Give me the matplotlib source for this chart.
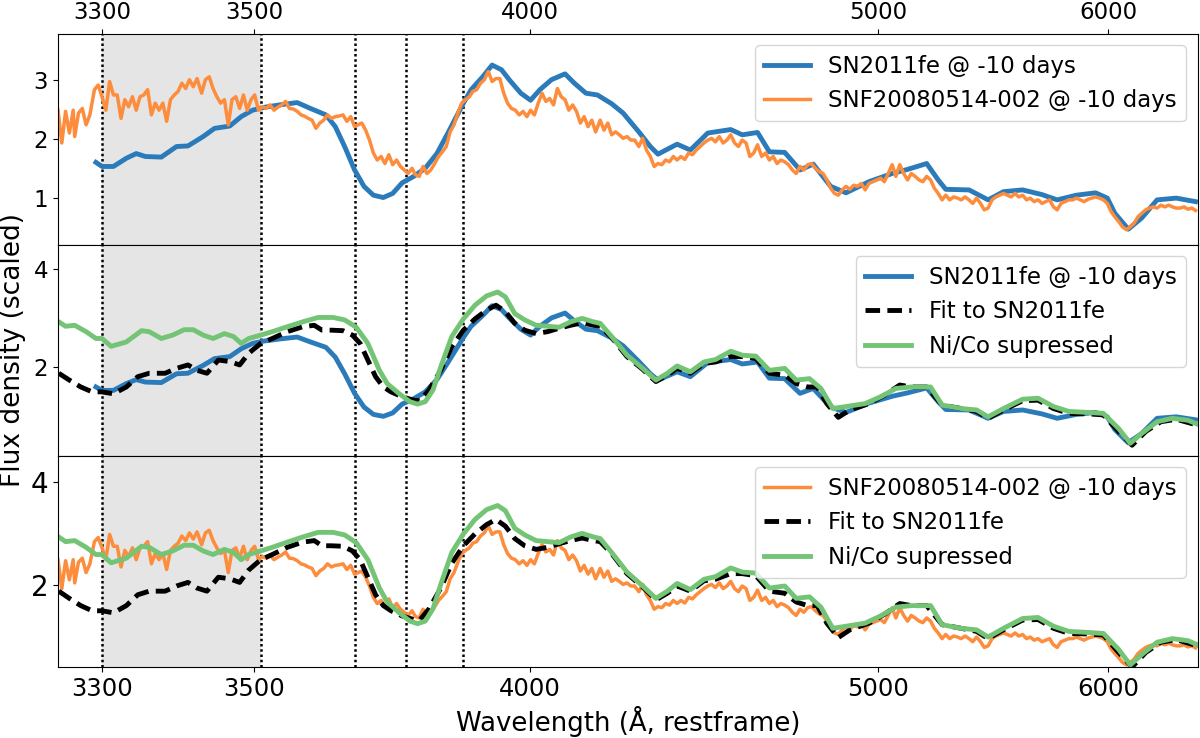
import numpy as np
import matplotlib
matplotlib.use("Agg")
import matplotlib.pyplot as plt

# spectra: wavelength (A, restframe) and scaled flux
sn11_wave = [3292, 3300, 3315, 3332, 3345, 3357, 3378, 3398, 3413, 3433,
             3448, 3468, 3483, 3498, 3519, 3546, 3578, 3602, 3630, 3647,
             3664, 3682, 3699, 3716, 3734, 3751, 3768, 3789, 3810, 3831,
             3851, 3879, 3893, 3914, 3931, 3948, 3962, 3983, 4001, 4028,
             4061, 4100, 4127, 4160, 4193, 4234, 4267, 4312, 4345, 4367,
             4422, 4460, 4510, 4576, 4609, 4653, 4687, 4731, 4775, 4813,
             4863, 4907, 4973, 5060, 5127, 5210, 5260, 5293, 5394, 5477,
             5544, 5627, 5711, 5777, 5861, 5944, 5995, 6032, 6099, 6166,
             6243, 6339, 6435]
sn11_flux = [1.60, 1.53, 1.53, 1.67, 1.75, 1.70, 1.69, 1.87, 1.88, 2.04,
             2.18, 2.22, 2.38, 2.49, 2.54, 2.58, 2.62, 2.52, 2.41, 2.21,
             1.87, 1.47, 1.19, 1.04, 1.00, 1.07, 1.25, 1.36, 1.50, 1.75,
             2.10, 2.61, 2.84, 3.06, 3.26, 3.18, 3.01, 2.78, 2.66, 2.84,
             3.01, 3.11, 2.95, 2.78, 2.75, 2.60, 2.44, 2.12, 1.87, 1.74,
             1.91, 1.81, 2.10, 2.16, 2.07, 2.11, 1.78, 1.77, 1.47, 1.57,
             1.19, 1.08, 1.27, 1.41, 1.48, 1.58, 1.30, 1.14, 1.13, 0.96,
             1.10, 1.13, 1.05, 0.96, 1.04, 1.08, 0.99, 0.73, 0.46, 0.65,
             0.96, 0.99, 0.93]

snf_wave = [3242, 3247, 3252, 3257, 3262, 3264, 3269, 3274, 3279, 3284,
            3290, 3295, 3300, 3305, 3310, 3315, 3320, 3325, 3330, 3335,
            3340, 3345, 3350, 3355, 3360, 3365, 3370, 3375, 3380, 3385,
            3390, 3395, 3400, 3405, 3410, 3415, 3420, 3425, 3431, 3436,
            3441, 3446, 3451, 3456, 3461, 3466, 3471, 3476, 3481, 3486,
            3491, 3496, 3501, 3508, 3515, 3522, 3529, 3536, 3543, 3550,
            3557, 3564, 3571, 3578, 3585, 3591, 3598, 3605, 3612, 3619,
            3626, 3633, 3640, 3647, 3654, 3661, 3668, 3675, 3682, 3688,
            3695, 3702, 3709, 3716, 3723, 3730, 3737, 3744, 3751, 3758,
            3765, 3772, 3779, 3786, 3792, 3799, 3806, 3813, 3820, 3827,
            3834, 3841, 3848, 3855, 3862, 3869, 3876, 3883, 3890, 3896,
            3903, 3910, 3917, 3924, 3931, 3938, 3945, 3952, 3959, 3966,
            3973, 3980, 3987, 3994, 4001, 4012, 4023, 4034, 4045, 4056,
            4067, 4078, 4089, 4100, 4111, 4122, 4133, 4144, 4155, 4166,
            4177, 4188,
            4201, 4212, 4223, 4234, 4245, 4256, 4267, 4278, 4289, 4300,
            4312, 4323, 4334, 4345, 4356, 4367, 4378, 4389, 4400, 4411,
            4422, 4433, 4444, 4455, 4466, 4477, 4488, 4499, 4510, 4521,
            4532, 4543, 4554, 4565, 4576, 4587, 4598, 4609, 4620, 4631,
            4642, 4653, 4665, 4676, 4687, 4698, 4709, 4720, 4731, 4742,
            4753, 4764, 4775, 4786, 4797, 4808, 4819, 4830, 4841, 4852,
            4863, 4874, 4885, 4896, 4907, 4918, 4929, 4940, 4951, 4962,
            4973, 4984, 4995,
            5010, 5026, 5043, 5060, 5076, 5093, 5110, 5127, 5143, 5160,
            5177, 5193, 5210, 5227, 5243, 5260, 5277, 5293, 5310, 5327,
            5344, 5360, 5377, 5394, 5410, 5427, 5444, 5460, 5477, 5494,
            5510, 5527, 5544, 5560, 5577, 5594, 5610, 5627, 5644, 5660,
            5677, 5694, 5711, 5727, 5744, 5761, 5777, 5794, 5811, 5828,
            5844, 5861, 5878, 5894, 5911, 5928, 5944, 5961, 5978, 5995,
            6013, 6032, 6051, 6070, 6090, 6109, 6128, 6147, 6166, 6186,
            6205, 6224, 6243, 6262, 6282, 6301, 6320, 6339, 6358, 6378,
            6397, 6416, 6435]
snf_flux = [2.49, 1.93, 2.47, 2.10, 2.49, 2.04, 2.44, 2.52, 2.24, 2.41,
            2.84, 2.92, 2.72, 2.49, 2.98, 2.75, 2.75, 2.35, 2.67, 2.55,
            2.72, 2.49, 2.72, 2.75, 2.84, 2.41, 2.61, 2.49, 2.61, 2.30,
            2.67, 2.75, 2.81, 2.95, 2.86, 3.01, 2.89, 3.03, 2.78, 3.01,
            3.06, 2.86, 2.72, 2.61, 2.67, 2.24, 2.67, 2.72, 2.52, 2.75,
            2.49, 2.67, 2.75, 2.49, 2.55, 2.52, 2.58, 2.49, 2.54, 2.58,
            2.64, 2.52, 2.51, 2.47, 2.41, 2.39, 2.35, 2.32, 2.18, 2.27,
            2.32, 2.41, 2.35, 2.38, 2.39, 2.41, 2.30, 2.38, 2.21, 2.24,
            2.27, 2.15, 1.98, 1.76, 1.64, 1.70, 1.58, 1.73, 1.56, 1.64,
            1.53, 1.47, 1.41, 1.50, 1.39, 1.36, 1.53, 1.41, 1.47, 1.58,
            1.70, 1.78, 1.87, 2.12, 2.24, 2.44, 2.61, 2.67, 2.72, 2.81,
            2.84, 2.95, 3.01, 3.15, 2.98, 3.03, 3.03, 2.78, 2.61, 2.52,
            2.49, 2.41, 2.47, 2.38, 2.49, 2.41, 2.61, 2.78, 2.64, 2.69,
            2.58, 2.86, 2.72, 2.67, 2.49, 2.58, 2.47, 2.27, 2.38, 2.21,
            2.32, 2.12,
            2.32, 2.15, 2.27, 2.07, 2.12, 2.07, 2.01, 2.04, 1.98, 1.98,
            1.87, 2.01, 1.81, 1.70, 1.53, 1.58, 1.56, 1.64, 1.61, 1.70,
            1.64, 1.70, 1.65, 1.76, 1.73, 1.81, 1.87, 1.93, 1.98, 2.01,
            1.95, 2.04, 1.93, 1.98, 2.07, 1.93, 1.87, 1.98, 1.93, 1.70,
            1.76, 1.90, 1.70, 1.76, 1.64, 1.70, 1.58, 1.64, 1.61, 1.56,
            1.47, 1.41, 1.53, 1.47, 1.56, 1.58, 1.50, 1.44, 1.41, 1.30,
            1.16, 1.07, 1.04, 1.13, 1.19, 1.14, 1.21, 1.19, 1.24, 1.13,
            1.24, 1.27, 1.30,
            1.33, 1.27, 1.41, 1.56, 1.36, 1.56, 1.41, 1.30, 1.41, 1.36,
            1.30, 1.27, 1.36, 1.30, 1.16, 1.07, 0.96, 1.04, 0.96, 1.01,
            0.99, 0.96, 1.01, 0.96, 0.90, 0.99, 0.90, 0.79, 0.82, 0.96,
            1.01, 1.04, 1.07, 1.04, 1.01, 1.07, 1.01, 1.04, 0.96, 0.99,
            0.93, 0.96, 0.90, 0.93, 0.96, 0.84, 0.79, 0.90, 0.93, 0.96,
            0.96, 0.99, 0.96, 0.93, 0.97, 0.99, 1.01, 0.99, 0.96, 0.90,
            0.76, 0.67, 0.59, 0.50, 0.45, 0.50, 0.56, 0.67, 0.73, 0.79,
            0.82, 0.84, 0.82, 0.87, 0.84, 0.87, 0.84, 0.82, 0.82, 0.84,
            0.80, 0.82, 0.78]

fit_wave = [3243, 3257, 3272, 3287, 3300, 3315, 3332, 3347, 3362, 3383,
            3398, 3413, 3425, 3438, 3453, 3468, 3481, 3493, 3512, 3533,
            3560, 3588, 3609, 3623, 3640, 3661, 3678, 3692, 3706, 3720,
            3734, 3748, 3768, 3789, 3800, 3817, 3838, 3858, 3879, 3900,
            3921, 3938, 3955, 3972, 3990, 4017, 4050, 4083, 4116, 4149,
            4182, 4201, 4234, 4278, 4323, 4361, 4394, 4422, 4460, 4499,
            4532, 4576, 4609, 4648, 4687, 4731, 4764, 4797, 4824, 4852,
            4885, 4918, 4973, 5026, 5093, 5143, 5210, 5277, 5360, 5427,
            5477, 5544, 5627, 5694, 5761, 5828, 5911, 5978, 6051, 6118,
            6186, 6262, 6339, 6445]
fit_flux = [1.88, 1.74, 1.60, 1.50, 1.50, 1.46, 1.60, 1.81, 1.88, 1.88,
            1.98, 2.05, 1.94, 1.88, 2.15, 2.12, 2.05, 2.29, 2.49, 2.59,
            2.73, 2.83, 2.86, 2.76, 2.76, 2.75, 2.66, 2.49, 2.15, 1.81,
            1.60, 1.50, 1.40, 1.33, 1.32, 1.54, 1.94, 2.42, 2.76, 2.99,
            3.17, 3.27, 3.14, 2.90, 2.76, 2.69, 2.73, 2.80, 2.86, 2.91,
            2.86, 2.84, 2.61, 2.22, 1.96, 1.71, 1.84, 1.98, 1.88, 2.08,
            2.11, 2.22, 2.22, 2.18, 1.88, 1.84, 1.67, 1.60, 1.60, 1.26,
            0.98, 1.13, 1.26, 1.43, 1.64, 1.60, 1.60, 1.23, 1.16, 1.10,
            0.96, 1.13, 1.32, 1.33, 1.16, 1.06, 1.05, 1.03, 0.69, 0.41,
            0.69, 0.89, 0.94, 0.82]

nico_wave = [3243, 3252, 3264, 3279, 3292, 3300, 3312, 3332, 3352, 3362,
             3378, 3393, 3408, 3420, 3433, 3446, 3461, 3473, 3483, 3493,
             3512, 3533, 3560, 3588, 3616, 3643, 3664, 3685, 3706, 3727,
             3741, 3762, 3782, 3796, 3810, 3824, 3838, 3858, 3879, 3900,
             3921, 3941, 3955, 3972, 3990, 4017, 4050, 4083, 4116, 4149,
             4182, 4201, 4234, 4278, 4323, 4361, 4394, 4422, 4460, 4499,
             4532, 4576, 4609, 4648, 4687, 4731, 4764, 4802, 4835, 4869,
             4907, 4962, 5010, 5076, 5143, 5227, 5277, 5360, 5427, 5477,
             5544, 5627, 5694, 5761, 5828, 5911, 5978, 6051, 6109, 6166,
             6243, 6320, 6397, 6445]
nico_flux = [2.93, 2.84, 2.86, 2.73, 2.59, 2.59, 2.43, 2.52, 2.75, 2.73,
             2.59, 2.66, 2.77, 2.77, 2.66, 2.59, 2.69, 2.63, 2.49, 2.59,
             2.66, 2.73, 2.83, 2.93, 3.02, 3.02, 2.97, 2.82, 2.49, 1.94,
             1.67, 1.47, 1.30, 1.25, 1.30, 1.54, 2.01, 2.63, 2.99, 3.27,
             3.46, 3.54, 3.44, 3.10, 2.97, 2.86, 2.84, 2.82, 2.93, 3.00,
             2.93, 2.90, 2.63, 2.25, 1.98, 1.74, 1.88, 2.03, 1.91, 2.11,
             2.16, 2.33, 2.25, 2.23, 1.94, 1.98, 1.74, 1.77, 1.57, 1.16,
             1.20, 1.26, 1.40, 1.57, 1.60, 1.60, 1.23, 1.16, 1.13, 0.99,
             1.16, 1.35, 1.37, 1.20, 1.10, 1.08, 1.06, 0.75, 0.45, 0.65,
             0.89, 0.96, 0.92, 0.84]

x_ticks = [3300, 3500, 4000, 5000, 6000]
line_waves = [3300, 3512, 3683, 3775, 3879]
shade_lo, shade_hi = 3300, 3512

# the wavelength axis is neither linear nor log: map it through the tick spots
scale_wave = [2500, 3242, 3300, 3500, 4000, 5000, 6000, 6445, 9000]
scale_pos = [-505, 58, 102, 254, 530, 878, 1108, 1197, 1708]


def fwd(w):
    return np.interp(w, scale_wave, scale_pos)


def inv(p):
    return np.interp(p, scale_pos, scale_wave)


c_blue = '#2b7bba'
c_orange = '#fd8d3c'
c_green = '#74c476'

fig, axes = plt.subplots(3, 1, figsize=(12, 7.38), dpi=100, sharex=True)
fig.subplots_adjust(left=58 / 1200, right=1197.5 / 1200,
                    top=1 - 34 / 738, bottom=1 - 667 / 738, hspace=0)

for ax in axes:
    ax.set_xscale('function', functions=(fwd, inv))
    ax.axvspan(shade_lo, shade_hi, color='#e5e5e5', zorder=0, lw=0)
    for w in line_waves:
        ax.axvline(w, color='k', ls=(0, (1, 1.1)), lw=1.8, zorder=1)

ax1, ax2, ax3 = axes

ax1.plot(sn11_wave, sn11_flux, color=c_blue, lw=3.5, label='SN2011fe @ -10 days')
ax1.plot(snf_wave, snf_flux, color=c_orange, lw=2.5,
         label='SNF20080514-002 @ -10 days')

ax2.plot(sn11_wave, sn11_flux, color=c_blue, lw=3.5, label='SN2011fe @ -10 days')
ax2.plot(fit_wave, fit_flux, color='k', lw=3.5, ls=(0, (3, 1.5)),
         label='Fit to SN2011fe')
ax2.plot(nico_wave, nico_flux, color=c_green, lw=3.5, label='Ni/Co supressed')

ax3.plot(snf_wave, snf_flux, color=c_orange, lw=2.5,
         label='SNF20080514-002 @ -10 days')
ax3.plot(fit_wave, fit_flux, color='k', lw=3.5, ls=(0, (3, 1.5)),
         label='Fit to SN2011fe')
ax3.plot(nico_wave, nico_flux, color=c_green, lw=3.5, label='Ni/Co supressed')

ax3.set_xlim(3242, 6445)
ax3.set_xticks(x_ticks)
ax3.set_xticklabels([str(t) for t in x_ticks])

ax1.tick_params(axis='x', top=True, labeltop=True, bottom=False,
                labelbottom=False, labelsize=16.5)
ax2.tick_params(axis='x', top=False, bottom=False, labelbottom=False)
ax3.tick_params(axis='x', labelsize=17.5)

ax1.set_ylim(0.19, 3.79)
ax1.set_yticks([1, 2, 3])
ax2.set_ylim(0.19, 4.5)
ax2.set_yticks([2, 4])
ax3.set_ylim(0.41, 4.5)
ax3.set_yticks([2, 4])
ax1.tick_params(axis='y', labelsize=16.5)
ax2.tick_params(axis='y', labelsize=16.5)
ax3.tick_params(axis='y', labelsize=20)

for ax in axes:
    ax.legend(loc='upper right', fontsize=16.5)

ax3.set_xlabel('Wavelength (Å, restframe)', fontsize=18.7)
fig.text(13 / 1200, 1 - 350 / 738, 'Flux density (scaled)', rotation=90,
         ha='center', va='center', fontsize=19)

fig.savefig('out.png', dpi=100)
